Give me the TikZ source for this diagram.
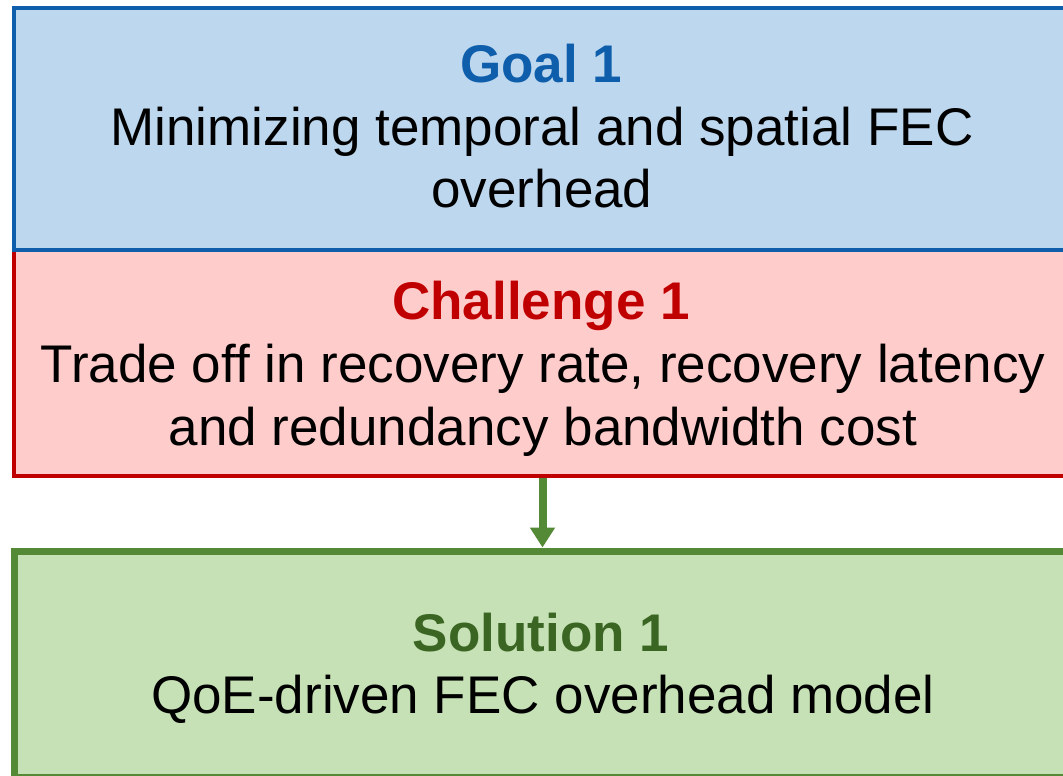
\documentclass[tikz,border=0pt]{standalone}
\usepackage{fontspec}
\setmainfont{Liberation Sans}
\usetikzlibrary{arrows.meta}
\definecolor{gfill}{RGB}{189,215,238}
\definecolor{gline}{RGB}{14,94,172}
\definecolor{cfill}{RGB}{255,204,204}
\definecolor{cline}{RGB}{192,0,0}
\definecolor{sfill}{RGB}{198,225,181}
\definecolor{sline}{RGB}{84,137,54}
\definecolor{stitle}{RGB}{58,101,35}
\tikzset{
  box/.style={draw, rectangle, minimum width=1054pt, inner sep=0pt, outer sep=0pt, anchor=north west},
  txt/.style={anchor=base, inner sep=0pt, font=\fontsize{53pt}{62pt}\selectfont},
  ttl/.style={txt, font=\fontsize{53pt}{62pt}\selectfont\bfseries},
}
\begin{document}
\begin{tikzpicture}[x=1pt,y=1pt]
\useasboundingbox (0,0) rectangle (1063,-776);
\begin{scope}
\clip (0,0) rectangle (1063,-776);
\node[box, fill=cfill, draw=cline, line width=3.5pt, minimum height=226pt] (chal) at (14,-250) {};
\node[box, fill=gfill, draw=gline, line width=4pt, minimum height=242pt] (goal) at (14,-8) {};
\node[box, fill=sfill, draw=sline, line width=7pt, minimum height=226pt] (sol) at (14,-551) {};
\end{scope}
\draw[sline, line width=8pt, shorten <=1.75pt, shorten >=3.5pt, -{Triangle[width=24pt,length=20pt]}] ([xshift=1.5pt]chal.south) -- ([xshift=1.5pt]sol.north);
\node[ttl, text=gline] (g1) at (541,-82) {Goal 1};
\node[txt] (g2) at (542,-145) {Minimizing temporal and spatial FEC};
\node[txt] (g3) at (542,-207) {overhead};
\node[ttl, text=cline] (c1) at (541,-319) {Challenge 1};
\node[txt] (c2) at (543,-382) {Trade off in recovery rate, recovery latency};
\node[txt] (c3) at (543,-445) {and redundancy bandwidth cost};
\node[ttl, text=stitle] (s1) at (541,-651) {Solution 1};
\node[txt] (s2) at (543,-713) {QoE-driven FEC overhead model};
\end{tikzpicture}
\end{document}
